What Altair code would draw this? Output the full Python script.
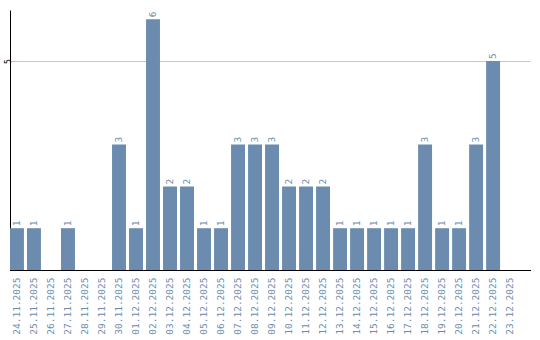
import altair as alt
import pandas as pd

dates = ["24.11.2025", "25.11.2025", "26.11.2025", "27.11.2025", "28.11.2025",
         "29.11.2025", "30.11.2025", "01.12.2025", "02.12.2025", "03.12.2025",
         "04.12.2025", "05.12.2025", "06.12.2025", "07.12.2025", "08.12.2025",
         "09.12.2025", "10.12.2025", "11.12.2025", "12.12.2025", "13.12.2025",
         "14.12.2025", "15.12.2025", "16.12.2025", "17.12.2025", "18.12.2025",
         "19.12.2025", "20.12.2025", "21.12.2025", "22.12.2025", "23.12.2025"]
counts = [1, 1, 0, 1, 0, 0, 3, 1, 6, 2, 2, 1, 1, 3, 3, 3, 2, 2, 2, 1,
          1, 1, 1, 1, 3, 1, 1, 3, 5, 0]

df = pd.DataFrame({"date": dates, "count": counts})

BLUE = "#6b8cae"
FONT = "DejaVu Sans Mono"

xenc = alt.X("date:N", sort=dates, title=None,
             scale=alt.Scale(paddingInner=0.18, paddingOuter=0.38, align=0),
             axis=alt.Axis(labelAngle=-90, labelColor=BLUE, labelFont=FONT,
                           labelFontSize=9.5, ticks=False, domain=False,
                           labelPadding=7, grid=False))
yenc = alt.Y("count:Q", title=None,
             scale=alt.Scale(domain=[0, 6.22], nice=False),
             axis=alt.Axis(values=[5], ticks=False, domainColor="black",
                           domainWidth=1, labelAngle=-90, labelFontSize=8,
                           labelColor="black", labelFont=FONT, labelPadding=2,
                           gridColor="#c8c8c8", labelBaseline="middle",
                           labelAlign="center"))

bars = alt.Chart(df).mark_bar(color=BLUE).encode(x=xenc, y=yenc)

labels = alt.Chart(df).transform_filter("datum.count > 0").mark_text(
    angle=270, align="left", baseline="middle", dx=2,
    color=BLUE, font=FONT, fontSize=9.5
).encode(x=alt.X("date:N", sort=dates), y="count:Q", text="count:Q")

baseline = alt.Chart(df).mark_rule(color="black", strokeWidth=1).encode(
    x=alt.value(0), x2=alt.value(521), y=alt.value(260.5))

chart = alt.layer(bars, labels, baseline).properties(
    width=520, height=260,
    background="white",
    autosize=alt.AutoSizeParams(type="none"),
    padding={"left": 10, "top": 10, "right": 10, "bottom": 70}
).configure_view(stroke="transparent", strokeWidth=0)

chart.save("out.html", embed_options={"renderer": "svg", "actions": False})
